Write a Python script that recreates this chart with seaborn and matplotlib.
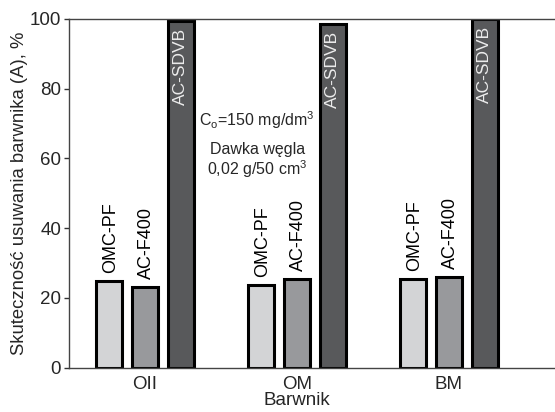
import pandas as pd
import matplotlib
matplotlib.use("Agg")
import matplotlib.pyplot as plt
import seaborn as sns

# data
dyes = ["OII", "OM", "BM"]
carbons = ["OMC-PF", "AC-F400", "AC-SDVB"]
omc_pf = [24.9, 23.8, 25.4]
ac_f400 = [23.2, 25.5, 26.0]
ac_sdvb = [99.4, 98.6, 99.9]
colors = ["#d3d4d6", "#98999c", "#58595b"]

rows = []
for i, d in enumerate(dyes):
    rows.append({"Barwnik": d, "carbon": "OMC-PF", "A": omc_pf[i]})
    rows.append({"Barwnik": d, "carbon": "AC-F400", "A": ac_f400[i]})
    rows.append({"Barwnik": d, "carbon": "AC-SDVB", "A": ac_sdvb[i]})
data = pd.DataFrame(rows)

sns.set_style("ticks")
plt.rcParams["font.family"] = ["Liberation Sans", "DejaVu Sans"]
plt.rcParams["mathtext.fontset"] = "custom"
plt.rcParams["mathtext.rm"] = "Liberation Sans"

fig = plt.figure(figsize=(5.55, 4.12), dpi=100)
ax = fig.add_axes([0.124, 0.108, 0.876, 0.846])

sns.barplot(data=data, x="Barwnik", y="A", hue="carbon", hue_order=carbons,
            palette=colors, edgecolor="black", linewidth=2.2,
            width=0.71, gap=0.28, saturation=1, legend=False, ax=ax)

# labels on the bars
for name, cont in zip(carbons, ax.containers):
    for p in cont.patches:
        xc = p.get_x() + p.get_width() / 2
        h = p.get_height()
        if name == "AC-SDVB":
            ax.text(xc, h - 2, name, rotation=90, ha="center", va="top",
                    color="#ececec", fontsize=12.5)
        else:
            ax.text(xc + 0.01, h + 2.2, name, rotation=90, ha="center", va="bottom",
                    color="black", fontsize=13)

ax.text(0.74, 71, r"C$_\mathregular{o}$=150 mg/dm$^\mathregular{3}$",
        ha="center", va="center", fontsize=11.5)
ax.text(0.74, 62.5, "Dawka węgla", ha="center", va="center", fontsize=11.5)
ax.text(0.74, 57, r"0,02 g/50 cm$^\mathregular{3}$", ha="center", va="center",
        fontsize=11.5)

ax.set_ylim(0, 100)
ax.set_xlim(-0.5, 2.7)
ax.set_yticks([0, 20, 40, 60, 80, 100])
ax.tick_params(axis="y", labelsize=13.5, length=3.5, width=1, color="#333333", pad=2)
ax.tick_params(axis="x", labelsize=13.5, length=0, pad=6)
ax.set_ylabel("Skuteczność usuwania barwnika (A), %", fontsize=13.3, labelpad=1)
ax.set_xlabel("Barwnik", fontsize=13.5)
ax.xaxis.set_label_coords(0.47, -0.07)

ax.spines["right"].set_visible(False)
for s in ["left", "bottom", "top"]:
    ax.spines[s].set_color("#444444")
    ax.spines[s].set_linewidth(1)

fig.savefig("out.png", dpi=100)
